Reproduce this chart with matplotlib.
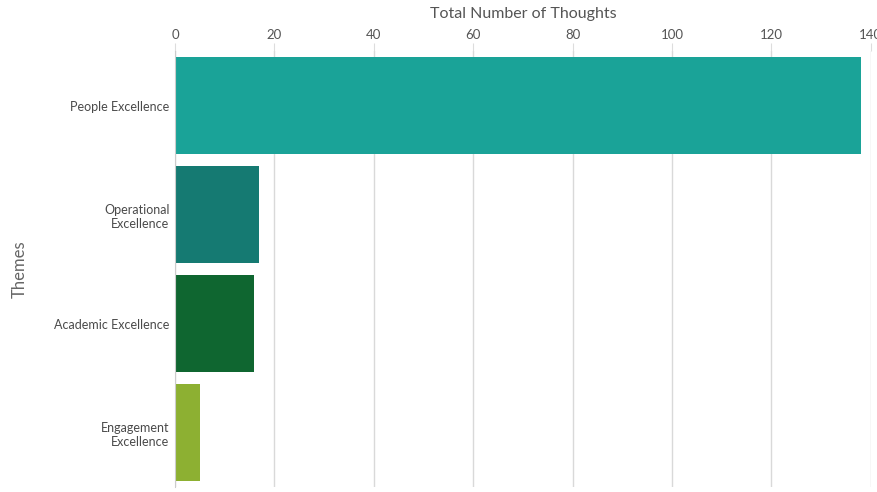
import matplotlib
matplotlib.use("Agg")
import matplotlib.pyplot as plt

themes = ["People Excellence", "Operational\nExcellence", "Academic Excellence", "Engagement\nExcellence"]
thoughts = [138, 17, 16, 5]
colors = ["#1aa398", "#157a72", "#0f6630", "#8db032"]
ticks = [0, 20, 40, 60, 80, 100, 120, 140]

plt.rcParams["font.family"] = ["Lato", "DejaVu Sans"]

fig = plt.figure(figsize=(8.77, 4.92), dpi=100)
ax = fig.add_axes([0.1995, 0.01, 0.7935, 0.886])

pos = list(range(len(themes)))
ax.barh(pos, thoughts, height=0.89, color=colors, zorder=2)
ax.set_ylim(len(themes) - 0.5, -0.5)
ax.set_xlim(0, 140)

ax.xaxis.tick_top()
ax.xaxis.set_label_position("top")
ax.set_xticks(ticks)
ax.set_xlabel("Total Number of Thoughts", color="#555555", fontsize=11.5, labelpad=8)
ax.set_ylabel("Themes", color="#666666", fontsize=12, labelpad=19)
ax.set_yticks(pos)
ax.set_yticklabels(themes, fontsize=9, color="#4a4a4a")
ax.tick_params(axis="y", length=0, pad=4)
ax.tick_params(axis="x", length=6, color="#dddddd", colors="#555555", labelsize=9.5, pad=1)
for lbl in ax.get_yticklabels():
    lbl.set_horizontalalignment("right")
    lbl.set_multialignment("right")

ax.grid(axis="x", color="#d9d9d9", linewidth=1, zorder=0)
for side in ["top", "right", "bottom"]:
    ax.spines[side].set_visible(False)
ax.spines["left"].set_color("#cccccc")

fig.savefig("out.png", dpi=100)
